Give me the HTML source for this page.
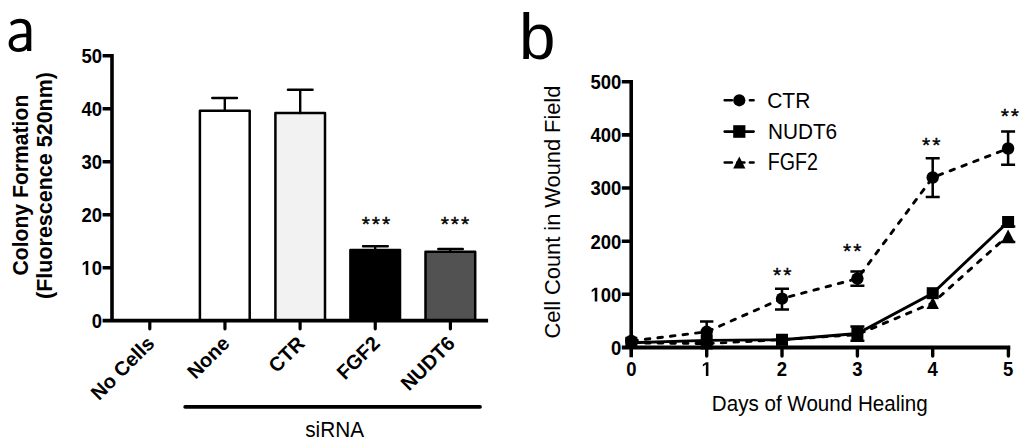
<!DOCTYPE html>
<html><head><meta charset="utf-8">
<style>
html,body{margin:0;padding:0;background:#fff;width:1024px;height:447px;overflow:hidden}
svg{display:block}
text{font-family:"Liberation Sans",sans-serif;fill:#000}
.b{font-weight:bold}
</style></head><body>
<svg width="1024" height="447" viewBox="0 0 1024 447">
<rect width="1024" height="447" fill="#fff"/>

<!-- panel letters -->
<path id="la" fill="#000" fill-rule="evenodd" d="M10.1 22.6C12.6 20.3 16.2 18.8 20.3 18.8C27.6 18.8 31.3 22.6 31.3 29.6L31.3 51L27.1 51L26.8 48.7C25.1 50.8 22.1 52 18.4 52C12.2 52 8.6 48.2 8.6 43.6C8.6 36.5 15 33.5 26.3 33.5L26.3 29.7C26.3 25.3 24.3 22.9 19.9 22.9C16.6 22.9 13.6 24 11.3 25.8Z M26.3 37.2C18.2 37.2 12.9 38.7 12.9 43.3C12.9 46.4 15.1 48.3 18.6 48.3C23.3 48.3 26.3 45.6 26.3 42.6Z"/>
<text id="lb" x="519.1" y="58.9" font-size="65.5">b</text>

<!-- ===== Panel a ===== -->
<g id="pa">
<!-- y axis title -->
<g class="b" font-size="21.3" text-anchor="middle">
<text font-size="21.15" transform="translate(27.6 185.1) rotate(-90)">Colony Formation</text>
<text font-size="21.5" transform="translate(52.3 185.5) rotate(-90)">(Fluorescence 520nm)</text>
</g>
<!-- y tick labels -->
<g class="b" font-size="18.5" text-anchor="end">
<text transform="translate(102 62.9) scale(1 1.09)">50</text>
<text transform="translate(102 115.9) scale(1 1.09)">40</text>
<text transform="translate(102 168.9) scale(1 1.09)">30</text>
<text transform="translate(102 221.9) scale(1 1.09)">20</text>
<text transform="translate(102 274.9) scale(1 1.09)">0</text>
<path d="M478 0L478 1170L140 959L140 1180L493 1409L759 1409L759 0Z" transform="translate(81.422 274.90) scale(0.009033 -0.009846)"/>
<text transform="translate(102 327.9) scale(1 1.09)">0</text>
</g>
<!-- bars -->
<g stroke="#000" stroke-width="2.5" stroke-linejoin="round">
<rect x="199.9" y="110.7" width="49.8" height="210.1" fill="#fff"/>
<rect x="275.4" y="113" width="49.6" height="207.8" fill="#f2f2f2"/>
<rect x="350.4" y="250" width="49.6" height="70.8" fill="#000"/>
<rect x="425.5" y="251.8" width="49.7" height="69" fill="#525252"/>
</g>
<!-- error bars -->
<g stroke="#000" stroke-width="2.4" stroke-linecap="round" fill="none">
<path d="M224.8 110.7V98M212.3 98H237"/>
<path d="M300.2 113V89.8M287.9 89.8H312.6"/>
<path d="M375.2 250V246.3M363 246.3H387.8"/>
<path d="M450.3 251.8V249M438.3 249H462.8"/>
</g>
<!-- axes -->
<g stroke="#000" stroke-width="3.6" fill="none">
<path d="M112 54V320.8"/>
<path d="M102.6 320.6H488.1" stroke-width="3.9"/>
<path d="M102.6 55.7H112M102.6 108.7H112M102.6 161.7H112M102.6 214.7H112M102.6 267.8H112"/>
</g>
<g stroke="#000" stroke-width="3.2" stroke-linecap="round" fill="none">
<path d="M149.8 320.8V328.8M224.95 320.8V328.8M300.1 320.8V328.8M375.25 320.8V328.8M450.4 320.8V328.8"/>
</g>
<!-- asterisks -->
<g font-size="21" letter-spacing="2" stroke="#000" stroke-width="0.4">
<text x="361.7" y="230.5">***</text>
<text x="440.7" y="230.5">***</text>
</g>
<!-- x labels rotated -->
<g class="b" font-size="20" text-anchor="end">
<text transform="translate(155.60 344.7) rotate(-45)">No Cells</text>
<text transform="translate(230.75 344.7) rotate(-45)">None</text>
<text transform="translate(305.90 344.7) rotate(-45)">CTR</text>
<text transform="translate(381.05 344.7) rotate(-45)">FGF2</text>
<text transform="translate(456.20 344.7) rotate(-45)">NUDT6</text>
</g>
<!-- siRNA -->
<path d="M185.1 406.9H480.1" stroke="#000" stroke-width="3.6" stroke-linecap="round"/>
<text transform="translate(334.6 437.2) scale(1 1.09)" font-size="20.8" text-anchor="middle">siRNA</text>
</g>

<!-- ===== Panel b ===== -->
<g id="pb">
<text font-size="21.8" text-anchor="middle" transform="translate(559.9 212.1) rotate(-90)">Cell Count in Wound Field</text>
<g class="b" font-size="18.5" text-anchor="end">
<text transform="translate(621.3 89) scale(1 1.09)">500</text>
<text transform="translate(621.3 142.2) scale(1 1.09)">400</text>
<text transform="translate(621.3 195.3) scale(1 1.09)">300</text>
<text transform="translate(621.3 248.5) scale(1 1.09)">200</text>
<text transform="translate(621.3 301.6) scale(1 1.09)">00</text>
<path d="M478 0L478 1170L140 959L140 1180L493 1409L759 1409L759 0Z" transform="translate(590.434 301.60) scale(0.009033 -0.009846)"/>
<text transform="translate(621.3 354.8) scale(1 1.09)">0</text>
</g>
<g class="b" font-size="18.5" text-anchor="middle">
<text transform="translate(631.3 376) scale(1 1.09)">0</text>
<path d="M478 0L478 1170L140 959L140 1180L493 1409L759 1409L759 0Z" transform="translate(701.556 376.00) scale(0.009033 -0.009846)"/>
<text transform="translate(782.0 376) scale(1 1.09)">2</text>
<text transform="translate(857.4 376) scale(1 1.09)">3</text>
<text transform="translate(932.7 376) scale(1 1.09)">4</text>
<text transform="translate(1008.1 376) scale(1 1.09)">5</text>
</g>
<text transform="translate(819.8 411.2) scale(1 1.09)" font-size="20.6" text-anchor="middle">Days of Wound Healing</text>

<!-- axes -->
<g stroke="#000" stroke-width="3.6" fill="none">
<path d="M631.2 80V357.3"/>
<path d="M621.8 347.5H1010.3" stroke-width="4.1"/>
<path d="M621.8 81.7H631.2M621.8 134.9H631.2M621.8 188H631.2M621.8 241.2H631.2M621.8 294.3H631.2"/>
</g>
<g stroke="#000" stroke-width="3.4" stroke-linecap="round" fill="none">
<path d="M706.7 347.5V356M782 347.5V356M857.4 347.5V356M932.7 347.5V356M1008.4 347.5V356"/>
</g>

<!-- data lines -->
<g fill="none" stroke="#000" stroke-width="2.9">
<path d="M631.3 342.8L706.7 343.6L782 339.6L857.4 334.6L932.7 302.9L1008.1 235.5" stroke-dasharray="4.6 8.05" stroke-dashoffset="-1.45" stroke-linecap="round"/>
<path d="M631.3 342.8L706.7 340.4L782 339.75L857.4 333.5L932.7 293.2L1008.1 222"/>
<path d="M631.3 341L706.7 331.8L782 298.6L857.4 278.6L932.7 177.5L1008.1 148.5" stroke-dasharray="4.6 8.05" stroke-dashoffset="-1.45" stroke-linecap="round"/>
</g>
<!-- error bars -->
<g fill="none" stroke="#000" stroke-width="2.5">
<path d="M706.7 321.6V342M700 321.6H713.4"/>
<path d="M782 288.7V309.4M775 288.7H789M775 309.4H789"/>
<path d="M857.4 271.5V285.7M850.4 271.5H864.4M850.4 285.7H864.4"/>
<path d="M932.7 158.2V197.1M925.7 158.2H939.7M925.7 197.1H939.7"/>
<path d="M1008.1 131.5V164.7M1001.1 131.5H1015.1M1001.1 164.7H1015.1"/>
<path d="M857.4 326.4V340.7M850.4 326.4H864.4M850.4 340.7H864.4"/>
<path d="M1000.9 226.5H1015.3M1000.9 242H1015.3"/>
</g>
<!-- markers: triangles (FGF2) -->
<g fill="#000">
<path d="M631.3 336.8l6.2 12h-12.4z"/>
<path d="M706.7 337.6l6.2 12h-12.4z"/>
<path d="M782.0 333.6l6.2 12h-12.4z"/>
<path d="M857.4 328.6l6.2 12h-12.4z"/>
<path d="M932.7 296.9l6.2 12h-12.4z"/>
<path d="M1008.1 229.5l6.2 12h-12.4z"/>
</g>
<!-- squares (NUDT6) -->
<g fill="#000">
<rect x="625.3" y="336.8" width="12" height="12"/>
<rect x="700.7" y="334.4" width="12" height="12"/>
<rect x="776" y="333.75" width="12" height="12"/>
<rect x="851.4" y="327.1" width="12" height="12.4"/>
<rect x="926.7" y="287.2" width="12" height="12"/>
<rect x="1002.1" y="216" width="12" height="12"/>
</g>
<!-- circles (CTR) -->
<g fill="#000">
<circle cx="631.3" cy="341" r="6.2"/>
<circle cx="706.7" cy="331.8" r="6.2"/>
<circle cx="782" cy="298.6" r="6.2"/>
<circle cx="857.4" cy="278.6" r="6.2"/>
<circle cx="932.7" cy="177.5" r="6.2"/>
<circle cx="1008.1" cy="148.5" r="6.2"/>
</g>
<!-- significance -->
<g font-size="21" letter-spacing="2" stroke="#000" stroke-width="0.4">
<text x="773" y="282.4">**</text>
<text x="843.1" y="257.75">**</text>
<text x="922" y="151.55">**</text>
<text x="1000.7" y="123.35">**</text>
</g>

<!-- legend -->
<g stroke="#000" stroke-width="2.6" fill="none" stroke-linecap="round">
<path d="M724.7 100.3H731.9M749.9 100.3H753.6"/>
<path d="M724.7 131.6H753.6"/>
<path d="M724.7 162.5H731.9M737.3 162.5H744.4M749.9 162.5H753.6"/>
</g>
<circle cx="739.3" cy="100.3" r="6.1"/>
<rect x="733.2" y="125.2" width="12.2" height="12.6"/>
<path d="M739.3 156.6l6.1 12h-12.2z"/>
<g font-size="21">
<text transform="translate(767.2 107.6) scale(1 1.09)">CTR</text>
<text transform="translate(767.9 138.9) scale(0.99 1.05)">NUDT6</text>
<text transform="translate(767.7 169.7) scale(0.936 1.11)">FGF2</text>
</g>
</g>
</svg>
</body></html>
